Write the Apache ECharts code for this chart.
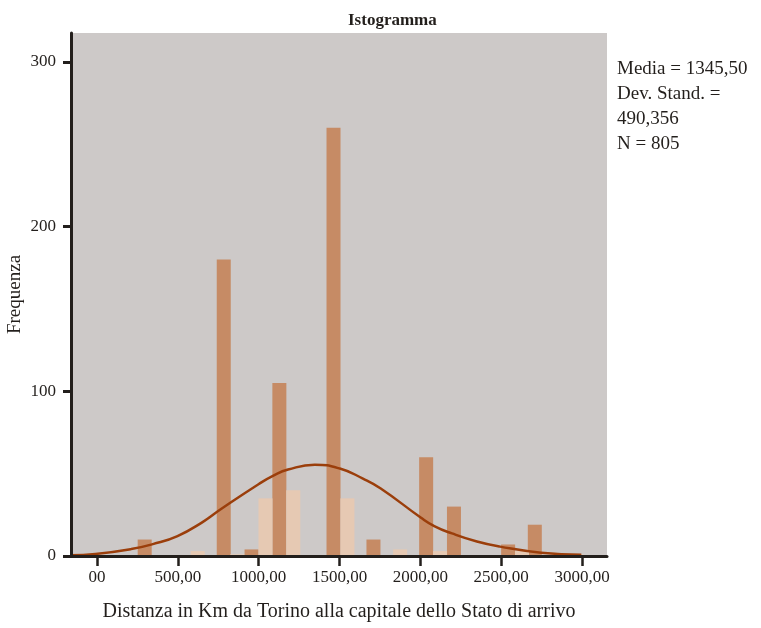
<!DOCTYPE html>
<html>
<head>
<meta charset="utf-8">
<script src="https://cdn.jsdelivr.net/npm/echarts@6/dist/echarts.min.js"></script>
<style>html,body{margin:0;padding:0;background:#fff}#c{width:761px;height:628px}</style>
</head>
<body>
<div id="c"></div>
<script>
const xTickLabels = ['00','500,00','1000,00','1500,00','2000,00','2500,00','3000,00'];
const yTickLabels = ['0','100','200','300'];
const darkBinCenters = [295, 784, 956, 1128, 1463, 1710, 2036, 2208, 2543, 2708];
const darkCounts     = [10, 180, 4, 105, 260, 10, 60, 30, 7, 19];
const lightBinCenters = [623, 867, 1042, 1214, 1549, 1875, 2122, 2629, 2966];
const lightCounts     = [3, 1, 35, 40, 35, 4, 3, 3, 1];
const curveX = [-163, -9, 212, 345, 498, 653, 763, 999, 1094, 1182, 1347, 1502, 1645, 1755, 2002, 2086, 2196, 2350, 2493, 2747, 2996];
const curveY = [0.4, 1.2, 4.2, 7.2, 12.1, 20.6, 28.2, 43.6, 49, 52.5, 55.4, 53.1, 47, 41, 23.4, 18.2, 13.7, 8.8, 5.7, 2.0, 0.8];
const statsLines = ['Media = 1345,50', 'Dev. Stand. =', '490,356', 'N = 805'];

const FONT = 'Liberation Serif';
const TXT = '#231f1c';
const hidden = {axisLine: {show: false}, axisTick: {show: false}, axisLabel: {show: false}, splitLine: {show: false}};

const chart = echarts.init(document.getElementById('c'), null, {renderer: 'canvas'});
chart.setOption({
  animation: false,
  textStyle: {fontFamily: FONT, color: TXT},
  title: [
    {text: 'Istogramma', left: 343, top: 7,
     textStyle: {fontFamily: FONT, fontWeight: 'bold', fontSize: 17, color: TXT}},
    {text: statsLines.join('\n'), left: 612, top: 52,
     textStyle: {fontFamily: FONT, fontWeight: 'normal', fontSize: 19, lineHeight: 25, color: TXT}}
  ],
  grid: [
    {left: 71, top: 33, right: 154, bottom: 72, show: true, backgroundColor: '#cdc9c8', borderWidth: 0,
     containLabel: false, outerBoundsMode: 'none'},
    {left: 97, top: 62, right: 179, bottom: 72, containLabel: false, outerBoundsMode: 'none'},
    {left: 71, top: 62, right: 154, bottom: 72, containLabel: false, outerBoundsMode: 'none'}
  ],
  xAxis: [
    {gridIndex: 0, type: 'value', min: -160.8, max: 3154.6, z: 10,
     axisLine: {show: true, onZero: false, lineStyle: {color: TXT, width: 3}},
     axisTick: {show: false}, axisLabel: {show: false}, splitLine: {show: false},
     name: 'Distanza in Km da Torino alla capitale dello Stato di arrivo',
     nameLocation: 'middle', nameGap: 46,
     nameTextStyle: {fontFamily: FONT, fontSize: 20, color: TXT}},
    {gridIndex: 1, type: 'value', min: 0, max: 3000, interval: 500, z: 10,
     axisLine: {show: false, onZero: false},
     axisTick: {show: true, length: 10, lineStyle: {color: TXT, width: 2.5}},
     axisLabel: {show: true, margin: 13, fontFamily: FONT, fontSize: 17, color: TXT,
                 showMinLabel: true, showMaxLabel: true,
                 formatter: v => xTickLabels[Math.round(v / 500)]},
     splitLine: {show: false}},
    Object.assign({gridIndex: 2, type: 'value', min: 0, max: 1}, hidden)
  ],
  yAxis: [
    {gridIndex: 0, type: 'value', min: 0, max: 317.6, z: 10,
     axisLine: {show: true, onZero: false, lineStyle: {color: TXT, width: 3}},
     axisTick: {show: false}, axisLabel: {show: false}, splitLine: {show: false},
     name: 'Frequenza', nameLocation: 'middle', nameGap: 46,
     nameTextStyle: {fontFamily: FONT, fontSize: 19, color: TXT}},
    Object.assign({gridIndex: 1, type: 'value', min: 0, max: 1}, hidden),
    {gridIndex: 2, type: 'value', min: 0, max: 300, interval: 100, z: 10,
     axisLine: {show: false, onZero: false},
     axisTick: {show: true, length: 8, lineStyle: {color: TXT, width: 3}},
     axisLabel: {show: true, margin: 15, fontFamily: FONT, fontSize: 17, color: TXT,
                 formatter: v => yTickLabels[Math.round(v / 100)]},
     splitLine: {show: false}}
  ],
  series: [
    {type: 'bar', xAxisIndex: 0, yAxisIndex: 0, barWidth: 14, barGap: '-100%',
     itemStyle: {color: '#c68b65'},
     data: darkBinCenters.map((x, i) => [x, darkCounts[i]])},
    {type: 'bar', xAxisIndex: 0, yAxisIndex: 0, barWidth: 14, barGap: '-100%',
     itemStyle: {color: '#e6c9b3'},
     data: lightBinCenters.map((x, i) => [x, lightCounts[i]])},
    {type: 'line', xAxisIndex: 0, yAxisIndex: 0, smooth: 0.5, showSymbol: false, z: 5,
     lineStyle: {color: '#9b3e0b', width: 2.5},
     data: curveX.map((x, i) => [x, curveY[i]])}
  ]
});
</script>
</body>
</html>
